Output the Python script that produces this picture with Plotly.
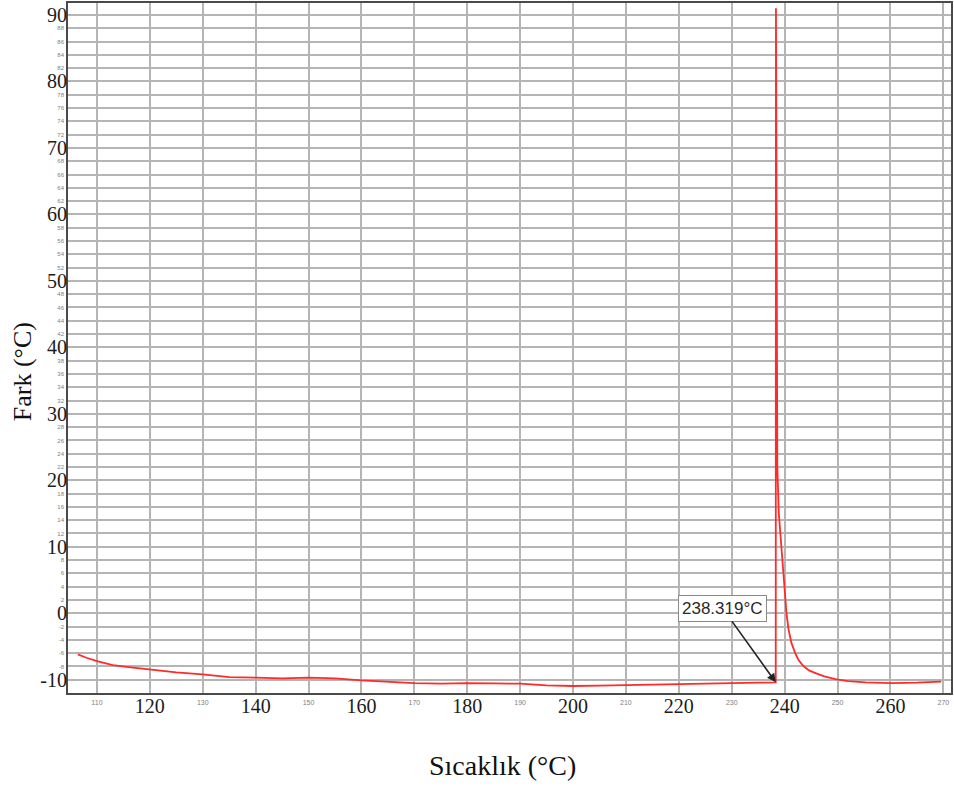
import plotly.graph_objects as go

# DSC trace: temperature (°C) vs. difference signal (°C)
temperature = [106.4, 108, 110, 113, 116, 120, 125, 130, 135, 140, 145, 150, 155,
               160, 165, 170, 175, 180, 185, 190, 195, 200, 205, 210, 215, 220,
               225, 230, 235, 238.2, 238.32, 238.36, 238.42, 238.5, 238.62, 238.9,
               239.35, 239.7, 240.0, 240.35, 240.75, 241.3, 242.0, 242.6, 243.5,
               244.6, 245.85, 247.5, 249.6, 252.0, 255.3, 260.2, 265, 269.6]
difference = [-6.2, -6.7, -7.2, -7.8, -8.1, -8.5, -8.9, -9.2, -9.6, -9.7, -9.8, -9.7, -9.8,
              -10.1, -10.35, -10.5, -10.6, -10.5, -10.55, -10.6, -10.85, -10.95, -10.9, -10.8,
              -10.75, -10.7, -10.6, -10.5, -10.45, -10.4, -10.4, 91, 80, 55, 22, 15,
              10, 6, 3, 0, -2.5, -4.5, -6, -7, -7.9,
              -8.6, -9.0, -9.5, -9.9, -10.2, -10.4, -10.5, -10.45, -10.3]

onset_temp = 238.319
onset_value = -10.4
onset_label = "238.319°C"

x_major = [120, 140, 160, 180, 200, 220, 240, 260]
x_minor = [110, 130, 150, 170, 190, 210, 230, 250, 270]
y_major = [-10, 0, 10, 20, 30, 40, 50, 60, 70, 80, 90]
y_minor = [v for v in range(-8, 92, 2) if v % 10 != 0]
y_grid = [v for v in range(-12, 92, 2) if v % 10 != 0]

x_range = [104.53, 271.45]
y_range = [-12.0, 91.8]

grid_color = "#b5b5b5"
serif = "Liberation Serif, Times New Roman, serif"
sans = "Liberation Sans, Arial, sans-serif"

fig = go.Figure()
fig.add_trace(go.Scatter(
    x=temperature, y=difference, mode="lines",
    line=dict(color="#ff2a2a", width=1.8),
    showlegend=False, hoverinfo="skip",
))

fig.update_layout(
    width=954, height=787,
    margin=dict(l=68, r=1, t=1, b=94),
    paper_bgcolor="white", plot_bgcolor="white",
    xaxis=dict(
        range=x_range, tickmode="array", tickvals=x_major,
        ticktext=[str(v) for v in x_major],
        tickfont=dict(family=serif, size=20, color="#1c1c1c"),
        showgrid=True, gridcolor=grid_color, gridwidth=2,
        minor=dict(tickmode="array", tickvals=x_minor, showgrid=True,
                   gridcolor=grid_color, gridwidth=2),
        showline=True, linecolor="#4a4a4a", linewidth=2, mirror=True,
        zeroline=False, ticks="", ticklabelstandoff=-6,
    ),
    xaxis2=dict(
        range=x_range, overlaying="x", anchor="y", side="bottom",
        tickmode="array", tickvals=x_minor, ticktext=[str(v) for v in x_minor],
        tickfont=dict(family=sans, size=7, color="#808080"),
        showgrid=False, zeroline=False, showline=False, ticks="",
        ticklabelstandoff=4,
    ),
    yaxis=dict(
        range=y_range, tickmode="array", tickvals=y_major,
        ticktext=[str(v) for v in y_major],
        tickfont=dict(family=serif, size=20, color="#1c1c1c"),
        showgrid=True, gridcolor=grid_color, gridwidth=2,
        minor=dict(tickmode="array", tickvals=y_grid, showgrid=True,
                   gridcolor=grid_color, gridwidth=2),
        showline=True, linecolor="#4a4a4a", linewidth=2, mirror=True,
        zeroline=False, ticks="", ticklabelstandoff=-5,
    ),
    yaxis2=dict(
        range=y_range, overlaying="y", anchor="x", side="left",
        tickmode="array", tickvals=y_minor, ticktext=[str(v) for v in y_minor],
        tickfont=dict(family=sans, size=6, color="#808080"),
        showgrid=False, zeroline=False, showline=False, ticks="",
        ticklabelstandoff=3,
    ),
)

# invisible trace so the secondary axes are drawn
fig.add_trace(go.Scatter(x=[None], y=[None], xaxis="x2", yaxis="y2",
                         showlegend=False, hoverinfo="skip"))

# onset marker
fig.add_annotation(
    x=onset_temp, y=onset_value, xref="x", yref="y",
    text=onset_label, showarrow=True,
    ax=-53, ay=-74,
    arrowhead=2, arrowsize=1.1, arrowwidth=1.6, arrowcolor="#222222",
    font=dict(family=sans, size=17, color="#2a2a2a"),
    bgcolor="white", bordercolor="#8a8a8a", borderwidth=1, borderpad=3,
)

# axis titles
fig.add_annotation(
    x=-0.052, y=0.465, xref="paper", yref="paper",
    text="Fark (°C)", textangle=-90, showarrow=False,
    font=dict(family=serif, size=26, color="#111111"),
    xanchor="center", yanchor="middle",
)
fig.add_annotation(
    x=0.492, y=-0.105, xref="paper", yref="paper",
    text="Sıcaklık (°C)", showarrow=False,
    font=dict(family=serif, size=28, color="#111111"),
    xanchor="center", yanchor="middle",
)

fig.write_html("out.html")
